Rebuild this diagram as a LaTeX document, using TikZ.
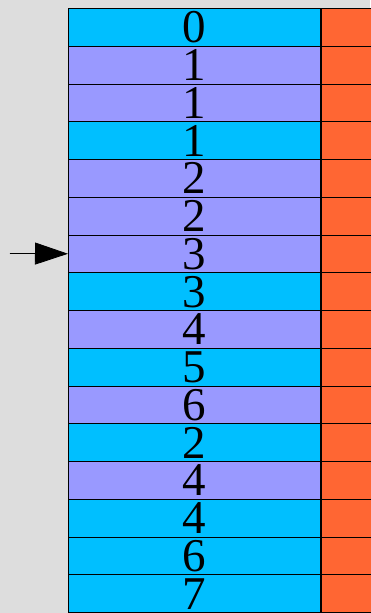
\documentclass[tikz,border=0pt]{standalone}
\usepackage{fontspec}
\setmainfont{Liberation Serif}
\usetikzlibrary{arrows.meta,positioning}
\definecolor{bgGray}{HTML}{DDDDDD}
\definecolor{cellCyan}{HTML}{00BFFF}
\definecolor{cellLav}{HTML}{9999FF}
\definecolor{tagOrange}{HTML}{FF6633}
\tikzset{
  cell/.style  = {draw=black, line width=0.8pt, minimum width=252pt,
                  minimum height=37.75pt, inner sep=0pt, anchor=north west,
                  font=\fontsize{47}{47}\selectfont, text height=31pt, text depth=0pt},
  cellc/.style = {cell, fill=cellCyan},
  celll/.style = {cell, fill=cellLav},
  tag/.style   = {draw=black, line width=0.8pt, fill=tagOrange, minimum width=50pt,
                  minimum height=37.75pt, inner sep=0pt, anchor=west},
  ptr/.style   = {-{Triangle[length=33pt,width=22pt]}, line width=0.8pt},
}
\begin{document}
\begin{tikzpicture}[x=1pt, y=-1pt]
    \useasboundingbox (0,0) rectangle (370,613);
    \fill[bgGray] (0,0) rectangle (370,613);
    % one row per entry: value column plus orange tag
    \foreach \val/\sty [count=\i] in {0/cellc,1/celll,1/celll,1/cellc,2/celll,2/celll,
        3/celll,3/cellc,4/celll,5/cellc,6/celll,2/cellc,4/celll,4/cellc,6/cellc,7/cellc}{%
      \node[\sty] (r\i) at (68,{8+(\i-1)*37.75}) {\val};
      \node[tag] (t\i) at (r\i.east) {};}
    \coordinate (ptrtail) at (10,253.4);
    \draw[ptr] (ptrtail) -- (r7.west);
  \end{tikzpicture}
\end{document}
